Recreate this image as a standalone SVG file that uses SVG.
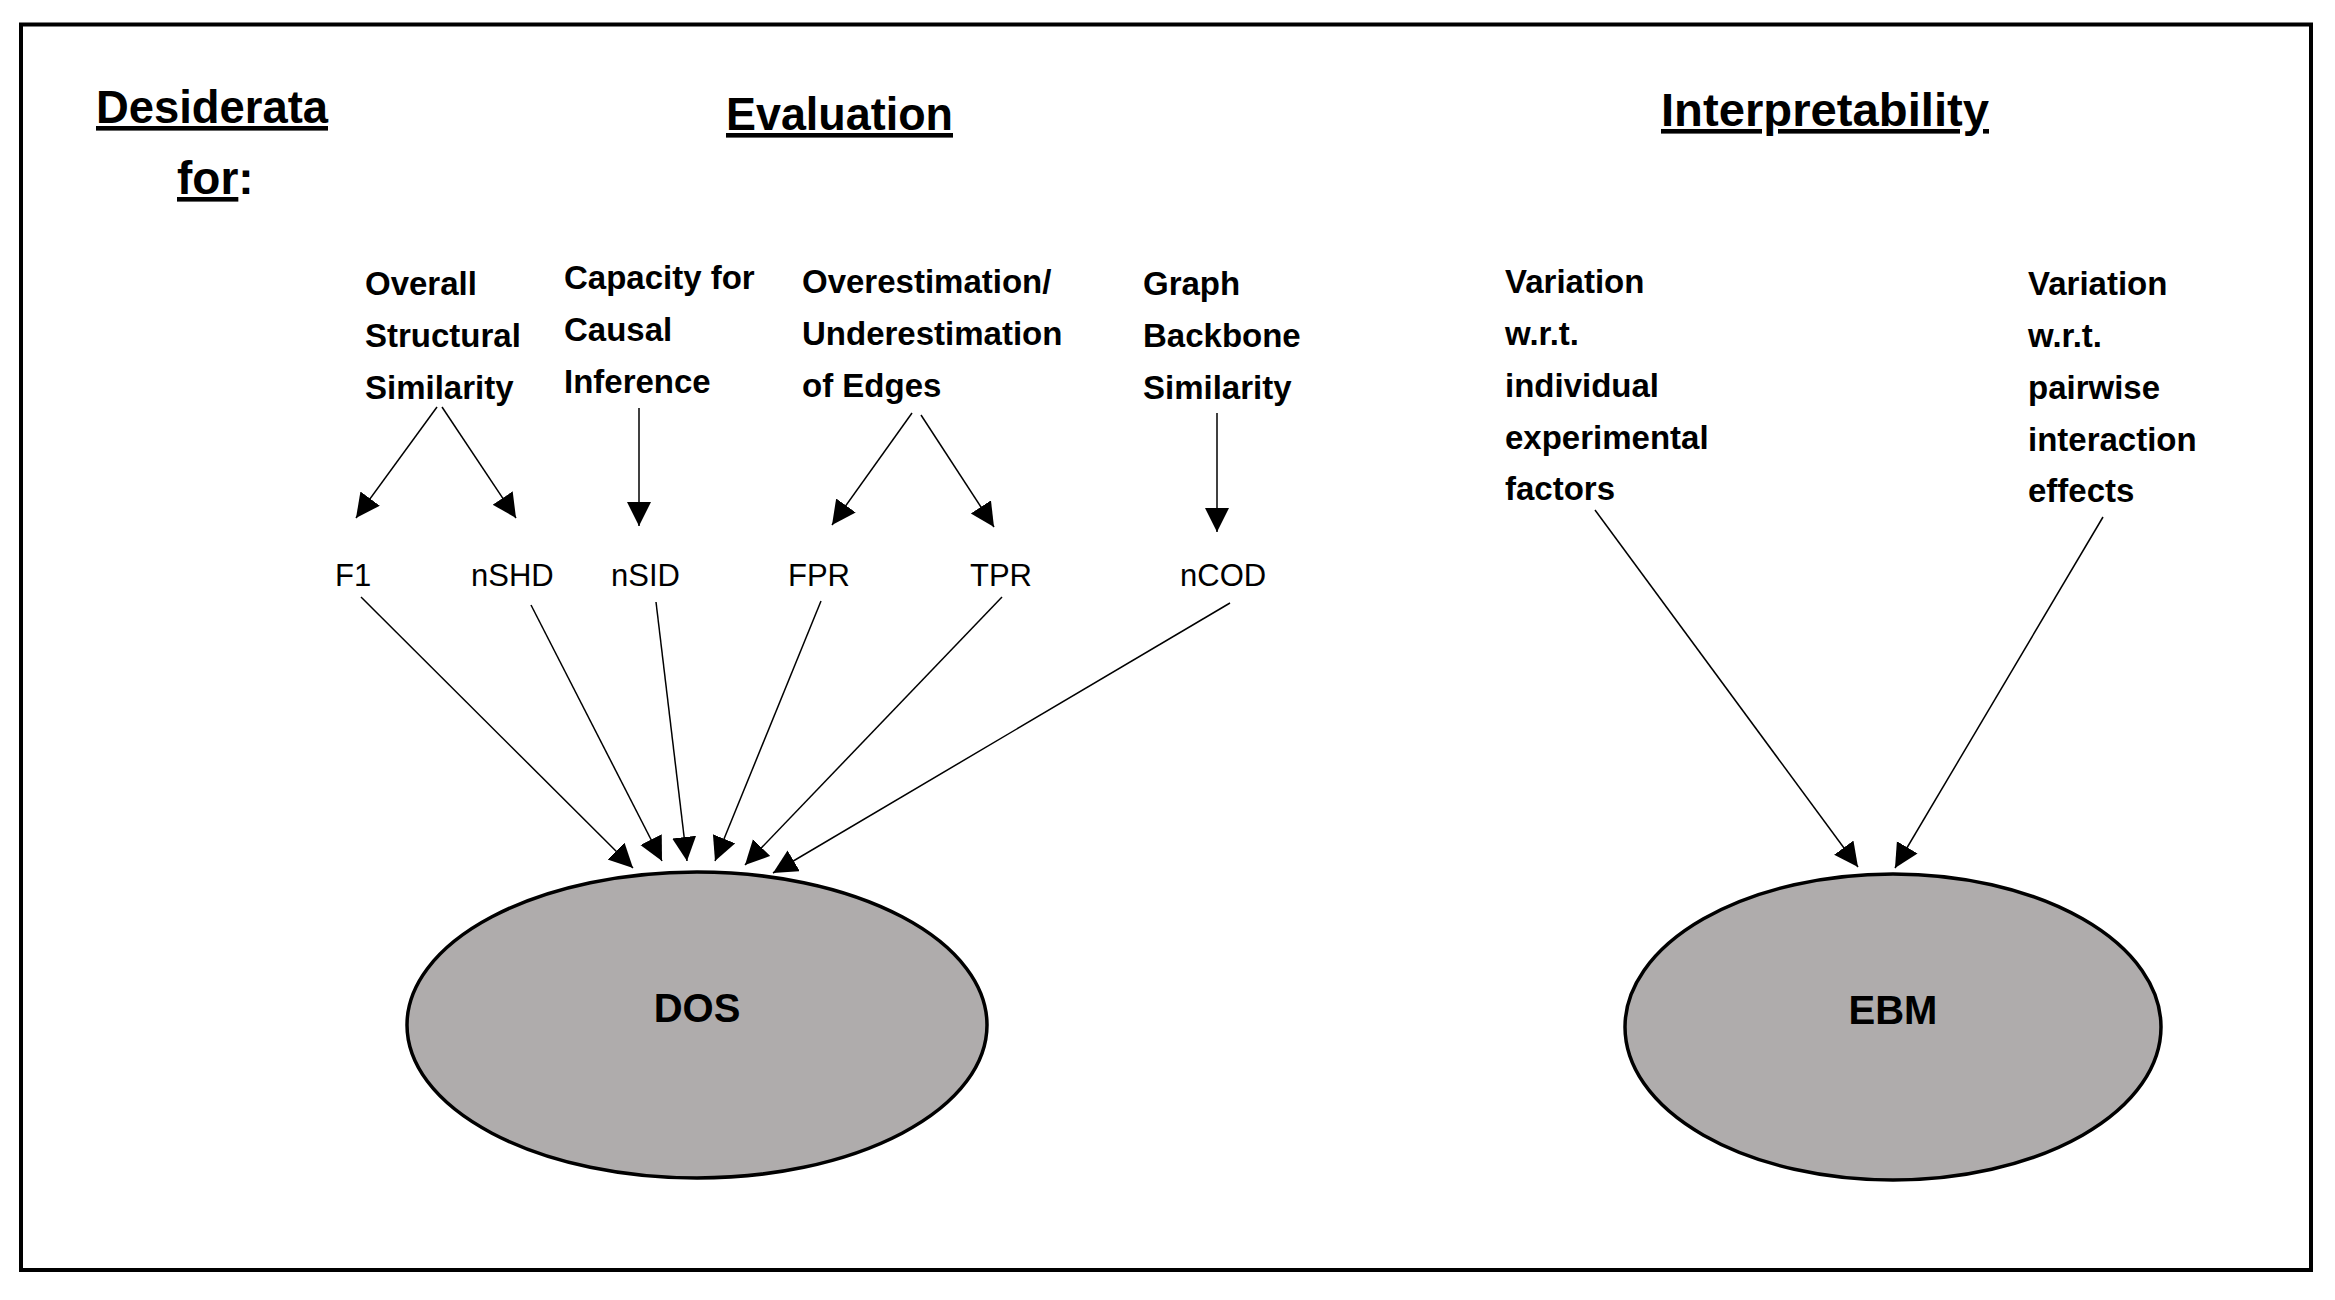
<svg xmlns="http://www.w3.org/2000/svg" width="2335" height="1300" viewBox="0 0 2335 1300">
<style>
.h{font-family:"Liberation Sans",Arial,sans-serif;font-weight:bold;font-size:46px;fill:#000}
.u{text-decoration:underline}
.b{font-family:"Liberation Sans",Arial,sans-serif;font-weight:bold;font-size:33px;fill:#000}
.m{font-family:"Liberation Sans",Arial,sans-serif;font-size:31px;fill:#000}
.n{font-family:"Liberation Sans",Arial,sans-serif;font-weight:bold;font-size:40px;fill:#000;text-anchor:middle}
.e{fill:#AFACAC;stroke:#000;stroke-width:3.5}
.c line{stroke:#000;stroke-width:1.5;marker-end:url(#ah)}
</style>
<defs>
<marker id="ah" markerUnits="userSpaceOnUse" markerWidth="26" markerHeight="26" refX="24" refY="12" orient="auto">
<path d="M0,0 L24,12 L0,24 Z" fill="#000"/>
</marker>
</defs>
<rect x="0" y="0" width="2335" height="1300" fill="#fff"/>
<rect x="21" y="24.5" width="2290" height="1245.5" fill="none" stroke="#000" stroke-width="4"/>

<g id="headings">
<text class="h u" x="96" y="123" textLength="232" lengthAdjust="spacingAndGlyphs">Desiderata</text>
<text class="h" x="177" y="194"><tspan class="u">for</tspan>:</text>
<text class="h u" x="726" y="130" textLength="227" lengthAdjust="spacingAndGlyphs">Evaluation</text>
<text class="h u" x="1661" y="126" textLength="328" lengthAdjust="spacingAndGlyphs">Interpretability</text>
</g>

<g id="overall">
<text class="b" x="365" y="295">Overall</text>
<text class="b" x="365" y="347">Structural</text>
<text class="b" x="365" y="399">Similarity</text>
</g>
<g id="capacity">
<text class="b" x="564" y="289">Capacity for</text>
<text class="b" x="564" y="341">Causal</text>
<text class="b" x="564" y="393">Inference</text>
</g>
<g id="overestimation">
<text class="b" x="802" y="293">Overestimation/</text>
<text class="b" x="802" y="345">Underestimation</text>
<text class="b" x="802" y="397">of Edges</text>
</g>
<g id="backbone">
<text class="b" x="1143" y="295">Graph</text>
<text class="b" x="1143" y="347">Backbone</text>
<text class="b" x="1143" y="399">Similarity</text>
</g>
<g id="individual">
<text class="b" x="1505" y="293">Variation</text>
<text class="b" x="1505" y="345">w.r.t.</text>
<text class="b" x="1505" y="397">individual</text>
<text class="b" x="1505" y="449">experimental</text>
<text class="b" x="1505" y="500">factors</text>
</g>
<g id="pairwise">
<text class="b" x="2028" y="295">Variation</text>
<text class="b" x="2028" y="347">w.r.t.</text>
<text class="b" x="2028" y="399">pairwise</text>
<text class="b" x="2028" y="451">interaction</text>
<text class="b" x="2028" y="502">effects</text>
</g>

<g id="F1"><text class="m" x="335" y="586">F1</text></g>
<g id="nSHD"><text class="m" x="471" y="586">nSHD</text></g>
<g id="nSID"><text class="m" x="611" y="586">nSID</text></g>
<g id="FPR"><text class="m" x="788" y="586">FPR</text></g>
<g id="TPR"><text class="m" x="970" y="586">TPR</text></g>
<g id="nCOD"><text class="m" x="1180" y="586">nCOD</text></g>

<g id="DOS">
<ellipse class="e" cx="697" cy="1025" rx="290" ry="153"/>
<text class="n" x="697" y="1022">DOS</text>
</g>
<g id="EBM">
<ellipse class="e" cx="1893" cy="1027" rx="268" ry="153"/>
<text class="n" x="1893" y="1024">EBM</text>
</g>

<g id="connectors" class="c">
<line x1="437" y1="407" x2="356" y2="518"/>
<line x1="442" y1="407" x2="516" y2="518"/>
<line x1="639" y1="408" x2="639" y2="526"/>
<line x1="912" y1="413" x2="832" y2="525"/>
<line x1="921" y1="415" x2="994" y2="527"/>
<line x1="1217" y1="413" x2="1217" y2="532"/>
<line x1="361" y1="597" x2="633" y2="868"/>
<line x1="531" y1="605" x2="662" y2="861"/>
<line x1="656" y1="602" x2="687" y2="861"/>
<line x1="821" y1="601" x2="715" y2="861"/>
<line x1="1002" y1="597" x2="745" y2="865"/>
<line x1="1230" y1="603" x2="773" y2="873"/>
<line x1="1595" y1="510" x2="1858" y2="867"/>
<line x1="2103" y1="517" x2="1895" y2="868"/>
</g>
</svg>
